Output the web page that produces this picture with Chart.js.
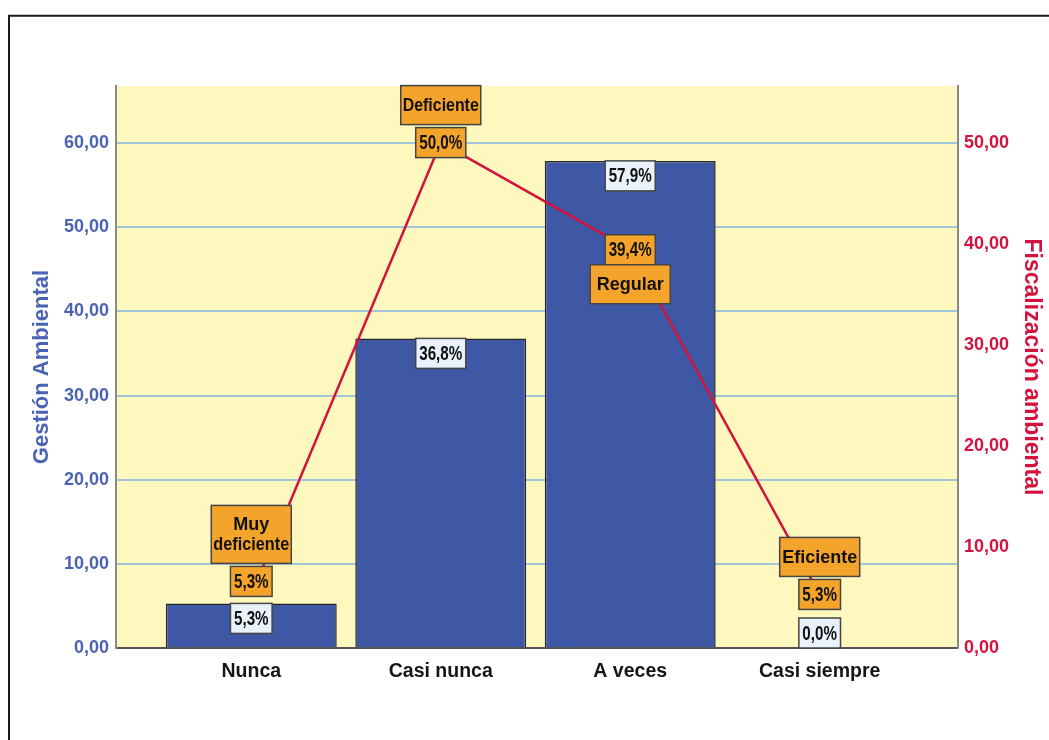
<!DOCTYPE html>
<html>
<head>
<meta charset="utf-8">
<script src="https://cdn.jsdelivr.net/npm/chart.js@4"></script>
<style>
  body { margin: 0; background: #fff; }
  .wrap { width: 1049px; height: 740px; position: relative; }
</style>
</head>
<body>
<div class="wrap"><canvas id="comboChart"></canvas></div>
<script>
const categories = ['Nunca', 'Casi nunca', 'A veces', 'Casi siempre'];
const gestionValues = [5.3, 36.8, 57.9, 0.0];
const fiscalValues = [5.3, 50.0, 39.4, 5.3];
const fiscalLevels = ['Muy deficiente', 'Deficiente', 'Regular', 'Eficiente'];
const leftTicks = [0, 10, 20, 30, 40, 50, 60];
const rightTicks = [0, 10, 20, 30, 40, 50];

const SANS = '"Liberation Sans", Arial, sans-serif';
const BLUE = '#4a63b3';
const RED = '#d4123e';
const ORANGE = '#f4a42b';
const PALE = '#e9f1fb';
const NARROW_X = 0.76; // squeeze to look like a narrow face

// where the level name sits relative to its value box
const levelSide = ['above', 'above', 'below', 'above'];

const pct = v => v.toFixed(1).replace('.', ',') + '%';
const num = v => v.toFixed(2).replace('.', ',');

function drawBox(ctx, x, y, w, h, fill, lines, font, squeeze) {
  ctx.fillStyle = fill;
  ctx.fillRect(x, y, w, h);
  ctx.strokeStyle = '#454545';
  ctx.lineWidth = 1.5;
  ctx.strokeRect(x, y, w, h);
  ctx.font = font;
  ctx.fillStyle = '#111';
  ctx.textAlign = 'center';
  ctx.textBaseline = 'middle';
  const lh = 20;
  const cx = x + w / 2;
  let cy = y + h / 2 - (lines.length - 1) * lh / 2 + 1;
  lines.forEach(t => {
    const tw = ctx.measureText(t).width * squeeze;
    const maxW = w - 4;
    const k = tw > maxW ? squeeze * maxW / tw : squeeze;
    ctx.save();
    ctx.translate(cx, cy);
    ctx.scale(k, 1);
    ctx.fillText(t, 0, 0);
    ctx.restore();
    cy += lh;
  });
}

function wrapText(ctx, text, maxW, font) {
  ctx.font = font;
  if (ctx.measureText(text).width <= maxW * 1.25) return [text];
  return text.split(' ');
}

const boxLabels = {
  id: 'boxLabels',
  beforeDraw(chart) {
    const { ctx, chartArea: a } = chart;
    ctx.save();
    ctx.fillStyle = '#fef8bf';
    ctx.fillRect(a.left, a.top, a.right - a.left, a.bottom - a.top);
    ctx.strokeStyle = '#1a1a1a';
    ctx.lineWidth = 2;
    ctx.beginPath();
    ctx.moveTo(9, 740);
    ctx.lineTo(9, 15.7);
    ctx.lineTo(1049, 15.7);
    ctx.stroke();
    ctx.restore();
  },
  afterDatasetsDraw(chart) {
    const ctx = chart.ctx;
    const lineMeta = chart.getDatasetMeta(0);
    const barMeta = chart.getDatasetMeta(1);
    const base = chart.scales.y.getPixelForValue(0);
    const valueFont = 'bold 20px ' + SANS;
    const levelFont = 'bold 18px ' + SANS;
    const h = 30;
    ctx.save();

    const barBoxes = gestionValues.map((v, i) => {
      const el = barMeta.data[i];
      ctx.font = valueFont;
      const txt = pct(v);
      const w = ctx.measureText(txt).width * NARROW_X + 7;
      const top = Math.min(el.y, base - h);
      drawBox(ctx, el.x - w / 2, top, w, h, PALE, [txt], valueFont, NARROW_X);
      return { top: top, bottom: top + h };
    });

    fiscalValues.forEach((v, i) => {
      const p = lineMeta.data[i];
      ctx.font = valueFont;
      const txt = pct(v);
      const w = ctx.measureText(txt).width * NARROW_X + 7;
      let top = p.y - h / 2;
      const b = barBoxes[i];
      if (top + h > b.top - 7 && top < b.bottom) top = b.top - 7 - h;
      drawBox(ctx, p.x - w / 2, top, w, h, ORANGE, [txt], valueFont, NARROW_X);

      const lines = wrapText(ctx, fiscalLevels[i], 76, levelFont);
      const ch = 20 + 19 * lines.length;
      const cTop = levelSide[i] === 'below' ? top + h : top - 3 - ch;
      drawBox(ctx, p.x - 40, cTop, 80, ch, ORANGE, lines, levelFont, 1);
    });
    ctx.restore();
  }
};

const comboChart = new Chart(document.getElementById('comboChart'), {
  data: {
    datasets: [{
      type: 'line',
      label: 'Fiscalización ambiental',
      data: fiscalValues.map((v, i) => ({ x: i, y: v })),
      yAxisID: 'y1',
      borderColor: RED,
      borderWidth: 2.5,
      pointRadius: 0,
      tension: 0,
      order: 0
    }, {
      type: 'bar',
      label: 'Gestión Ambiental',
      data: gestionValues.map((v, i) => ({ x: i, y: v })),
      yAxisID: 'y',
      backgroundColor: '#3f58a6',
      borderColor: '#262626',
      borderWidth: 1.5,
      categoryPercentage: 1,
      barPercentage: 0.902,
      order: 1
    }]
  },
  options: {
    responsive: true,
    maintainAspectRatio: false,
    animation: false,
    layout: { padding: { top: 86, left: 0, right: 0, bottom: 0 } },
    plugins: { legend: { display: false }, tooltip: { enabled: false } },
    scales: {
      x: {
        type: 'linear',
        offset: false,
        min: -0.714,
        max: 3.73,
        afterBuildTicks: s => { s.ticks = categories.map((c, i) => ({ value: i })); },
        afterFit: s => { s.height = 92; },
        grid: { display: false, drawTicks: false, offset: false },
        border: { color: '#555', width: 2 },
        ticks: {
          padding: 12,
          maxRotation: 0,
          autoSkip: false,
          color: '#151515',
          font: { family: SANS, size: 19.5, weight: 'bold' },
          callback: v => categories[v]
        }
      },
      y: {
        position: 'left',
        min: 0,
        max: 66.8,
        afterBuildTicks: s => { s.ticks = leftTicks.map(v => ({ value: v })); },
        afterFit: s => { s.width = 116; },
        grid: { color: '#a3c5da', lineWidth: 2, drawTicks: false },
        border: { color: '#8a8a8a', width: 2 },
        ticks: {
          padding: 7,
          color: BLUE,
          font: { family: SANS, size: 18, weight: 'bold' },
          callback: v => num(v)
        },
        title: {
          display: true,
          text: 'Gestión Ambiental',
          color: BLUE,
          padding: { top: 29, bottom: 0 },
          font: { family: SANS, size: 22, weight: 'bold' }
        }
      },
      y1: {
        position: 'right',
        min: 0,
        max: 55.6,
        afterBuildTicks: s => { s.ticks = rightTicks.map(v => ({ value: v })); },
        afterFit: s => { s.width = 91; },
        grid: { display: false, drawTicks: false },
        border: { color: '#8a8a8a', width: 2 },
        ticks: {
          padding: 6,
          color: RED,
          font: { family: SANS, size: 18, weight: 'bold' },
          callback: v => num(v)
        },
        title: {
          display: true,
          text: 'Fiscalización ambiental',
          color: RED,
          padding: { top: 4, bottom: 0 },
          font: { family: SANS, size: 23, weight: 'bold' }
        }
      }
    }
  },
  plugins: [boxLabels]
});
</script>
</body>
</html>
